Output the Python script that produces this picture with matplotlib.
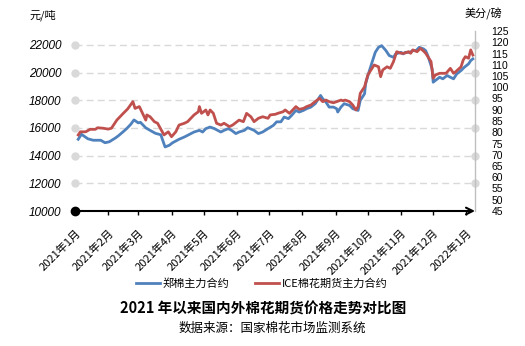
import matplotlib
matplotlib.use('Agg')
import matplotlib.pyplot as plt
import pandas as pd

plt.rcParams['font.family'] = ['Noto Sans CJK SC', 'DejaVu Sans']

# 郑棉主力合约 (元/吨)
zce_dates = ['2021-01-04', '2021-01-07', '2021-01-13', '2021-01-18', '2021-01-25', '2021-01-29',
             '2021-02-02', '2021-02-08', '2021-02-11', '2021-02-18', '2021-02-22', '2021-02-25',
             '2021-03-01', '2021-03-03', '2021-03-08', '2021-03-12', '2021-03-17', '2021-03-22',
             '2021-03-26', '2021-03-30', '2021-04-02', '2021-04-08', '2021-04-13', '2021-04-16',
             '2021-04-22', '2021-04-27', '2021-04-30', '2021-05-03', '2021-05-07', '2021-05-11',
             '2021-05-14', '2021-05-17', '2021-05-20', '2021-05-24', '2021-05-27', '2021-05-31',
             '2021-06-03', '2021-06-08', '2021-06-11', '2021-06-17', '2021-06-21', '2021-06-25',
             '2021-06-30', '2021-07-05', '2021-07-08', '2021-07-12', '2021-07-15', '2021-07-19',
             '2021-07-22', '2021-07-26', '2021-07-29', '2021-08-02', '2021-08-05', '2021-08-09',
             '2021-08-13', '2021-08-17', '2021-08-18', '2021-08-20', '2021-08-23', '2021-08-26',
             '2021-08-30', '2021-09-02', '2021-09-03', '2021-09-06', '2021-09-09', '2021-09-14',
             '2021-09-17', '2021-09-22', '2021-09-24', '2021-09-28', '2021-09-29', '2021-10-02',
             '2021-10-05', '2021-10-08', '2021-10-11', '2021-10-14', '2021-10-18', '2021-10-21',
             '2021-10-25', '2021-10-27', '2021-11-01', '2021-11-03', '2021-11-05', '2021-11-09',
             '2021-11-12', '2021-11-15', '2021-11-18', '2021-11-22', '2021-11-24', '2021-11-26',
             '2021-11-30', '2021-12-01', '2021-12-03', '2021-12-07', '2021-12-10', '2021-12-14',
             '2021-12-17', '2021-12-20', '2021-12-23', '2021-12-27', '2021-12-30', '2022-01-03',
             '2022-01-05', '2022-01-07']
zce_price = [15180, 15540, 15215, 15110, 15110, 14930,
             15000, 15290, 15465, 15935, 16260, 16580,
             16365, 16405, 16005, 15825, 15610, 15505,
             14625, 14750, 14930, 15180, 15345, 15465,
             15705, 15825, 15705, 15950, 16065, 15950,
             15825, 15705, 15825, 15950, 15825, 15590,
             15705, 15825, 16020, 15825, 15590, 15705,
             15950, 16185, 16440, 16440, 16785, 16670,
             16905, 17265, 17145, 17265, 17390, 17505,
             17750, 18225, 18345, 18110, 17865, 17505,
             17505, 17390, 17145, 17505, 17750, 17625,
             17390, 17265, 17985, 18465, 19185, 20000,
             20740, 21460, 21820, 21940, 21580, 21225,
             21100, 21345, 21460, 21345, 21460, 21460,
             21580, 21580, 21820, 21705, 21580, 21225,
             20265, 19300, 19425, 19660, 19545, 19785,
             19660, 19545, 19905, 20145, 20380, 20625,
             20865, 20985]

# ICE棉花期货主力合约 (美分/磅)
ice_dates = ['2021-01-04', '2021-01-06', '2021-01-11', '2021-01-15', '2021-01-20', '2021-01-22',
             '2021-01-27', '2021-02-01', '2021-02-04', '2021-02-09', '2021-02-15', '2021-02-19',
             '2021-02-24', '2021-02-26', '2021-03-02', '2021-03-05', '2021-03-08', '2021-03-09',
             '2021-03-12', '2021-03-16', '2021-03-19', '2021-03-25', '2021-03-29', '2021-04-01',
             '2021-04-05', '2021-04-08', '2021-04-13', '2021-04-16', '2021-04-19', '2021-04-22',
             '2021-04-26', '2021-04-27', '2021-04-29', '2021-05-03', '2021-05-05', '2021-05-07',
             '2021-05-10', '2021-05-13', '2021-05-17', '2021-05-20', '2021-05-25', '2021-05-28',
             '2021-06-03', '2021-06-07', '2021-06-10', '2021-06-14', '2021-06-17', '2021-06-21',
             '2021-06-25', '2021-06-30', '2021-07-02', '2021-07-07', '2021-07-09', '2021-07-14',
             '2021-07-16', '2021-07-20', '2021-07-23', '2021-07-26', '2021-07-29', '2021-08-02',
             '2021-08-05', '2021-08-09', '2021-08-11', '2021-08-13', '2021-08-17', '2021-08-20',
             '2021-08-23', '2021-08-26', '2021-08-30', '2021-09-02', '2021-09-06', '2021-09-08',
             '2021-09-10', '2021-09-14', '2021-09-17', '2021-09-20', '2021-09-22', '2021-09-24',
             '2021-09-28', '2021-10-01', '2021-10-04', '2021-10-07', '2021-10-11', '2021-10-13',
             '2021-10-15', '2021-10-19', '2021-10-22', '2021-10-25', '2021-10-28', '2021-11-01',
             '2021-11-04', '2021-11-08', '2021-11-10', '2021-11-12', '2021-11-16', '2021-11-19',
             '2021-11-22', '2021-11-24', '2021-11-29', '2021-12-01', '2021-12-03', '2021-12-07',
             '2021-12-13', '2021-12-17', '2021-12-20', '2021-12-22', '2021-12-27', '2021-12-29',
             '2021-12-31', '2022-01-03', '2022-01-05', '2022-01-07']
ice_price = [78.8, 80.2, 80.2, 81.3, 81.3, 82.0,
             81.8, 81.4, 81.8, 85.4, 88.4, 90.3,
             93.6, 90.6, 91.4, 88.4, 85.4, 87.7,
             86.9, 84.7, 84.0, 78.8, 80.2, 78.0,
             80.2, 83.2, 84.0, 84.7, 86.2, 87.7,
             89.1, 91.4, 88.4, 89.9, 87.7, 89.9,
             88.4, 84.0, 83.2, 84.0, 82.5, 83.2,
             85.4, 84.7, 88.4, 86.9, 84.7, 86.2,
             86.9, 86.2, 87.7, 88.0, 88.4, 89.1,
             89.9, 88.4, 89.9, 91.4, 90.2, 90.6,
             91.4, 92.1, 92.9, 93.6, 95.1, 93.6,
             94.3, 93.6, 93.1, 93.6, 94.3, 94.0,
             94.3, 93.6, 92.1, 89.9, 91.4, 97.3,
             100.2, 105.4, 107.7, 109.9, 109.1, 104.7,
             107.7, 109.1, 108.4, 111.4, 115.8, 115.1,
             115.1, 115.8, 115.1, 116.6, 115.8, 117.3,
             116.1, 115.1, 111.4, 104.0, 105.4, 106.2,
             106.2, 108.4, 106.2, 106.9, 109.1, 112.1,
             113.6, 112.9, 116.6, 114.3]

month_ticks = ['2021-01-01', '2021-02-01', '2021-03-01', '2021-04-01', '2021-05-01',
               '2021-06-01', '2021-07-01', '2021-08-01', '2021-09-01', '2021-10-01',
               '2021-11-01', '2021-12-01', '2022-01-01']
month_labels = ['2021年1月', '2021年2月', '2021年3月', '2021年4月', '2021年5月',
                '2021年6月', '2021年7月', '2021年8月', '2021年9月', '2021年10月',
                '2021年11月', '2021年12月', '2022年1月']
left_ticks = list(range(10000, 22001, 2000))
right_ticks = list(range(45, 126, 5))

blue = '#4F81BD'
red = '#C0504D'
grid_c = '#D9D9D9'

fig = plt.figure(figsize=(5.25, 3.46), dpi=100)
fig.patch.set_facecolor('white')
ax = fig.add_axes([75 / 525, 1 - 211 / 346, 400 / 525, 180 / 346])
ax2 = ax.twinx()

l1, = ax.plot(pd.to_datetime(zce_dates), zce_price, color=blue, lw=2, zorder=3)
l2, = ax2.plot(pd.to_datetime(ice_dates), ice_price, color=red, lw=2, zorder=3)

ax.set_xlim(pd.Timestamp('2021-01-01'), pd.Timestamp('2022-01-09'))
ax.set_ylim(10000, 23000)
ax2.set_ylim(45, 125)

# dashed grid with round caps at both ends
for y in left_ticks[1:]:
    ax.plot([0, 1], [y, y], transform=ax.get_yaxis_transform(), color=grid_c, lw=1,
            ls=(0, (5, 3)), marker='o', ms=5, mec=grid_c, mfc=grid_c, clip_on=False, zorder=1)

# bottom axis: dot on the left, arrow on the right
ax.annotate('', xy=(1.0, 0), xytext=(0, 0), xycoords='axes fraction',
            arrowprops=dict(arrowstyle='->', color='black', lw=1.5, mutation_scale=12,
                            shrinkA=0, shrinkB=0), zorder=4)
ax.plot([0], [0], 'o', color='black', ms=6, transform=ax.transAxes, clip_on=False, zorder=5)

for s in ax.spines.values():
    s.set_visible(False)
for s in ['top', 'left', 'bottom']:
    ax2.spines[s].set_visible(False)
ax2.spines['right'].set_color('#BFBFBF')
ax2.spines['right'].set_linewidth(1)

ax.set_xticks(pd.to_datetime(month_ticks))
ax.set_xticklabels(month_labels, rotation=45, ha='right', rotation_mode='anchor', fontsize=8)
ax.tick_params(axis='x', length=3, width=1, color='black', pad=9)

ax.set_yticks(left_ticks)
ax.set_yticklabels([str(v) for v in left_ticks], fontstyle='italic',
                   family='Liberation Sans', fontsize=8.5)
ax.tick_params(axis='y', length=0, pad=10)

ax2.set_yticks(right_ticks)
ax2.set_yticklabels([str(v) for v in right_ticks], family='Liberation Sans', fontsize=7.5)
ax2.tick_params(axis='y', length=0, pad=12)

fig.text(29 / 525, 1 - 15 / 346, '元/吨', fontsize=8, va='center')
fig.text(465 / 525, 1 - 14 / 346, '美分/磅', fontsize=8, va='center')

fig.legend([l1, l2], ['郑棉主力合约', 'ICE棉花期货主力合约'], loc='center',
           bbox_to_anchor=(262 / 525, 1 - 284 / 346), ncol=2, frameon=False, fontsize=8,
           handlelength=2.1, handletextpad=0.3, columnspacing=2.3)

fig.text(0.502, 1 - 309 / 346, '2021 年以来国内外棉花期货价格走势对比图',
         ha='center', va='center', fontsize=10.5, fontweight='bold')
fig.text(0.518, 1 - 328 / 346, '数据来源：国家棉花市场监测系统',
         ha='center', va='center', fontsize=9)

fig.savefig('out.png', dpi=100)
